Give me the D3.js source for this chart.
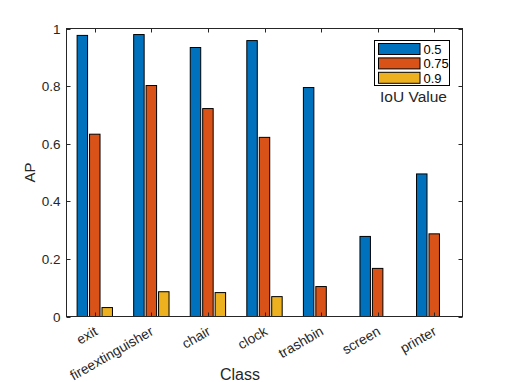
<!DOCTYPE html>
<html><head><meta charset="utf-8">
<script src="https://cdn.jsdelivr.net/npm/d3@7"></script>
<style>body{margin:0;background:#fff}svg{display:block;font-family:"Liberation Sans",Arial,Helvetica,sans-serif}</style>
</head><body><svg id="c" width="510" height="382"></svg>
<script>
const categories = ["exit","fireextinguisher","chair","clock","trashbin","screen","printer"];
const seriesNames = ["0.5","0.75","0.9"];
const iou50 = [0.976,0.979,0.934,0.958,0.795,0.278,0.495];
const iou75 = [0.633,0.802,0.722,0.622,0.104,0.167,0.287];
const iou90 = [0.031,0.086,0.083,0.069,0,0,0];
const yTicks = [0,0.2,0.4,0.6,0.8,1];
const colors = ["#0072BD","#D95319","#EDB120"];
const series = [iou50, iou75, iou90];

const svg = d3.select("#c");
const L=66.5, R=462.5, T=28.5, B=316.5;
const x = d3.scaleLinear().domain([0.5, categories.length+0.5]).range([L,R]);
const y = d3.scaleLinear().domain([0,1]).range([B,T]);
const axisColor = "#262626";

// bars
const barStep = 0.22, barW = 0.185;
series.forEach((vals, s) => {
  svg.append("g").selectAll("rect").data(vals.map((v,i)=>({v,i})).filter(d=>d.v>0)).join("rect")
    .attr("x", d => x(d.i+1 + (s-1)*barStep - barW/2))
    .attr("width", d => x(barW) - x(0))
    .attr("y", d => y(d.v))
    .attr("height", d => y(0)-y(d.v))
    .attr("fill", colors[s]).attr("stroke","#000").attr("stroke-width",1);
});

// box
svg.append("rect").attr("x",L).attr("y",T).attr("width",R-L).attr("height",B-T)
  .attr("fill","none").attr("stroke",axisColor).attr("stroke-width",1);

// y ticks
const tl = 4;
yTicks.forEach(t => {
  const yy = Math.round(y(t))+0.5;
  svg.append("line").attr("x1",L).attr("x2",L+tl).attr("y1",yy).attr("y2",yy).attr("stroke",axisColor);
  svg.append("line").attr("x1",R-tl).attr("x2",R).attr("y1",yy).attr("y2",yy).attr("stroke",axisColor);
  svg.append("text").attr("x",L-6).attr("y",yy).attr("dy","0.35em").attr("text-anchor","end")
    .attr("font-size",13.5).attr("fill",axisColor).text(d3.format("~g")(t));
});
// x ticks
categories.forEach((c,i) => {
  const xx = Math.round(x(i+1))+0.5;
  svg.append("line").attr("x1",xx).attr("x2",xx).attr("y1",B).attr("y2",B-tl).attr("stroke",axisColor);
  svg.append("line").attr("x1",xx).attr("x2",xx).attr("y1",T).attr("y2",T+tl).attr("stroke",axisColor);
  svg.append("text").attr("transform",`translate(${xx+3},${B+17.5}) rotate(-30)`)
    .attr("text-anchor","end")
    .attr("font-size",13.8).attr("fill",axisColor).text(c);
});

// axis labels
svg.append("text").attr("x",240).attr("y",380).attr("text-anchor","middle")
  .attr("font-size",16).attr("fill",axisColor).text("Class");
svg.append("text").attr("transform",`translate(34.5,${(T+B)/2}) rotate(-90)`).attr("text-anchor","middle")
  .attr("font-size",15).attr("fill",axisColor).text("AP");

// legend
const lg = svg.append("g");
lg.append("rect").attr("x",374.5).attr("y",40.5).attr("width",75).attr("height",45)
  .attr("fill","#fff").attr("stroke","#000");
seriesNames.forEach((n,s) => {
  const yy = 43.5 + s*14.4;
  lg.append("rect").attr("x",378.5).attr("y",yy).attr("width",41.5).attr("height",11)
    .attr("fill",colors[s]).attr("stroke","#000");
  lg.append("text").attr("x",423.5).attr("y",yy+5.8).attr("dy","0.35em")
    .attr("font-size",13).attr("fill","#000").text(n);
});
lg.append("text").attr("x",413.5).attr("y",102.3).attr("text-anchor","middle")
  .attr("font-size",15.5).attr("fill",axisColor).text("IoU Value");
</script></body></html>
